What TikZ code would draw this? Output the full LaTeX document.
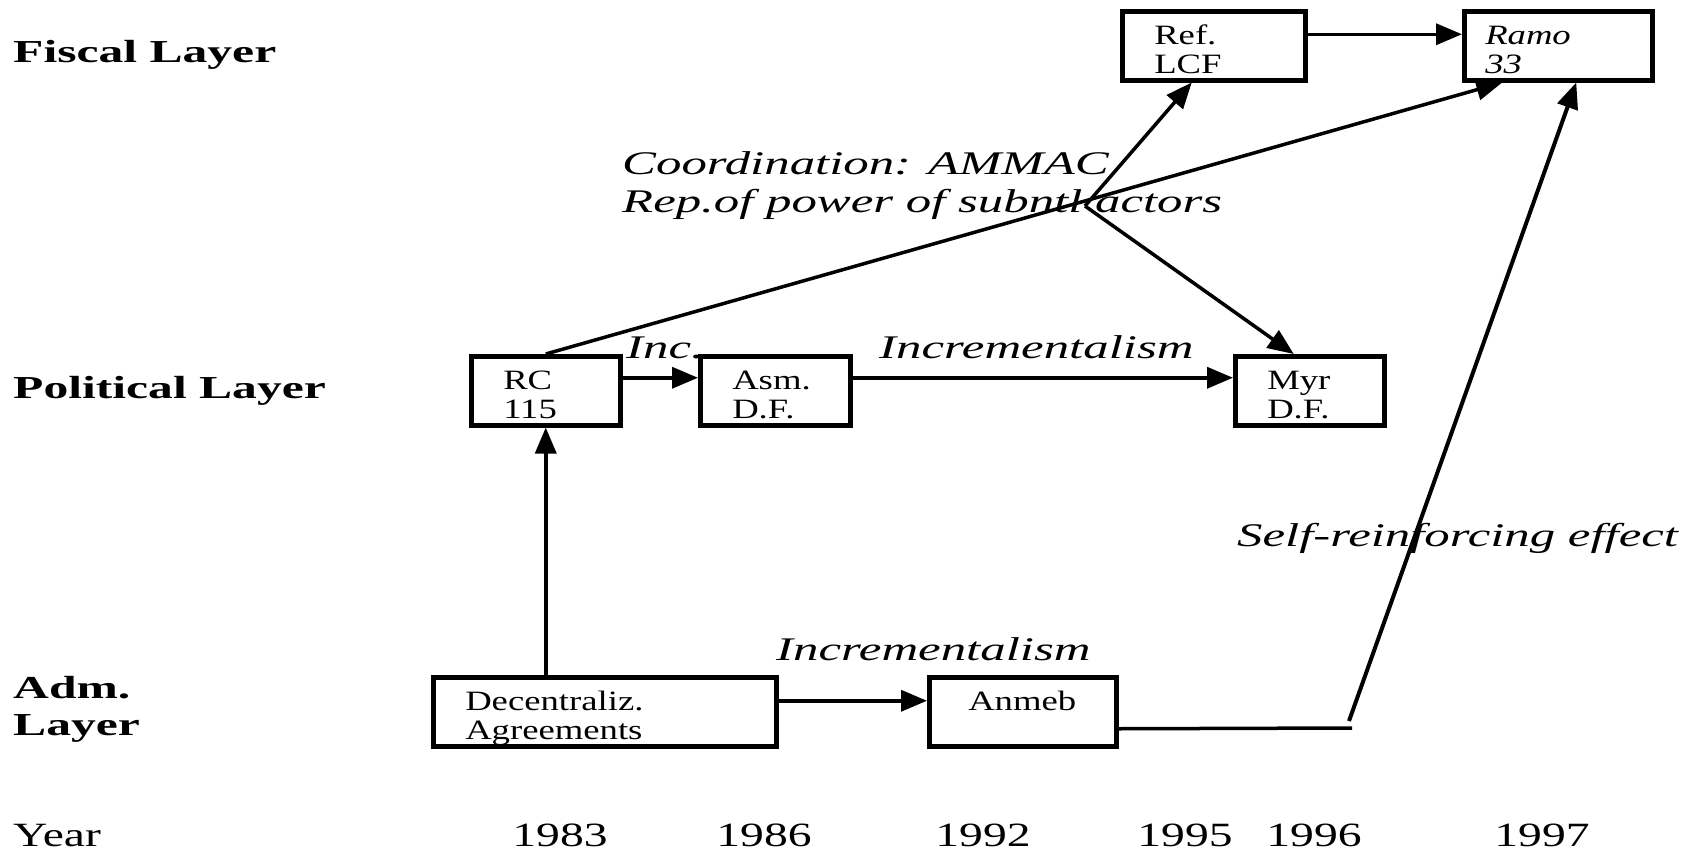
\documentclass[tikz,border=0pt]{standalone}
\usepackage{fontspec}
\setmainfont{Liberation Serif}
% horizontally widened serif faces
\newfontfamily\boxfam{Liberation Serif}[FakeStretch=1.31]
\newfontfamily\layerfam{Liberation Serif}[FakeStretch=1.55]
\newfontfamily\notefam{Liberation Serif}[FakeStretch=1.54]
\newfontfamily\yearfam{Liberation Serif}[FakeStretch=1.40]
\usetikzlibrary{arrows.meta}

% two-line box content: fixed height, first baseline 35pt below the outer top edge
\newcommand\boxlines[3][32]{\parbox[c][69pt][t]{#2pt}{\leftskip=#1pt\rule{0pt}{33pt}#3}}

\begin{document}
\begin{tikzpicture}[x=1pt,y=-1pt,
  box/.style={draw, line width=4.5pt, anchor=north west, inner sep=0pt,
    minimum height=69pt, font=\boxfam\fontsize{28pt}{29.5pt}\selectfont},
  layer/.style={anchor=base west, inner sep=0pt,
    font=\layerfam\bfseries\fontsize{32pt}{38pt}\selectfont},
  note/.style={anchor=base west, inner sep=0pt,
    font=\notefam\itshape\fontsize{33pt}{38pt}\selectfont},
  year/.style={anchor=base, inner sep=0pt,
    font=\yearfam\fontsize{34pt}{40pt}\selectfont},
  conn/.style={line width=3.5pt},
  arr/.style={conn, -{Triangle[length=26pt,width=21pt]}}]

\fill[white] (0,0) rectangle (1701,852);
\useasboundingbox (0,0) rectangle (1701,852);

% layer captions
\node[layer] (fiscal) at (13,62) {Fiscal Layer};
\node[layer] (political) at (13,398) {Political Layer};
\node[layer] (adm) at (13,698) {Adm.};
\node[layer] (admb) at (13,735) {Layer};

% time axis
\node[year] (yearlab) at (13,846) [anchor=base west] {Year};
\node[year] (y83) at (560,846) {1983};
\node[year] (y86) at (764,846) {1986};
\node[year] (y92) at (983,846) {1992};
\node[year] (y95) at (1185,846) {1995};
\node[year] (y96) at (1314,846) {1996};
\node[year] (y97) at (1542,846) {1997};

% boxes
\node[box, minimum width=183pt] (ref) at (1120,9) {\boxlines{183}{Ref.\\LCF}};
\node[box, minimum width=188pt] (ramo) at (1462,9) {\boxlines[21]{188}{\itshape Ramo\\33}};
\node[box, minimum width=149pt] (rc) at (469,354) {\boxlines{149}{RC\\115}};
\node[box, minimum width=150pt] (asm) at (698,354) {\boxlines{150}{Asm.\\D.F.}};
\node[box, minimum width=149pt] (myr) at (1233,354) {\boxlines{149}{Myr\\D.F.}};
\node[box, minimum width=343pt] (dec) at (431,675) {\boxlines{343}{Decentraliz.\\Agreements}};
\node[box, minimum width=187pt] (anmeb) at (927,675) {\boxlines[39]{187}{Anmeb}};

% annotations
\node[note] (coord) at (622,174) {Coordination: AMMAC};
\node[note] (rep) at (622,212) {Rep.of power of subntl actors};
\node[note] (inc) at (626,358) {Inc.};
\node[note] (incpol) at (879,358) {Incrementalism};
\node[note] (incadm) at (776,660) {Incrementalism};
\node[note] (self) at (1237,546) {Self-reinforcing effect};

% connector end points
\coordinate (j) at (1085,206);
\coordinate (bend) at (1352,728);
\coordinate (rise) at (1349,721);

% connectors
\draw[arr] ([yshift=11.5pt]ref.east) -- ([yshift=11.5pt]ramo.west);
\draw[arr] ([yshift=13pt]rc.east) -- ([yshift=13pt]asm.west);
\draw[arr] ([yshift=13pt]asm.east) -- ([yshift=13pt]myr.west);
\draw[arr] ([yshift=11pt]dec.east) -- ([yshift=11pt]anmeb.west);
\draw[arr] (rc.south |- dec.north) -- (rc.south);
\draw[arr] (rc.north) -- ([xshift=-56pt]ramo.south);
\draw[arr] (j) -- ([xshift=-22pt]ref.south);
\draw[arr] (j) -- ([xshift=-16pt]myr.north);
\draw[conn] ([yshift=-17pt]anmeb.east) -- (bend);
\draw[arr, line width=4pt] (rise) -- ([xshift=18pt]ramo.south);

\end{tikzpicture}
\end{document}
